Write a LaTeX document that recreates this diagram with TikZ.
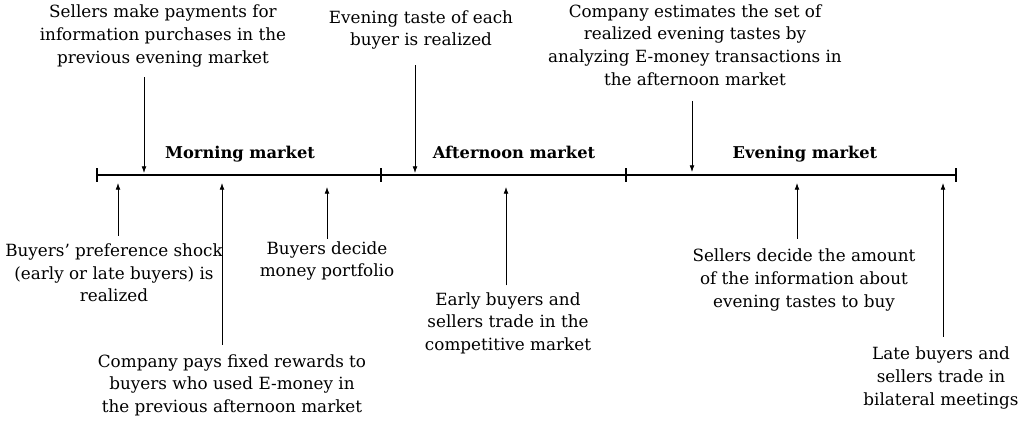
\documentclass[tikz,border=0pt]{standalone}
\usepackage{fontspec}
\setmainfont{DejaVu Serif}
\usetikzlibrary{arrows.meta}
\begin{document}
\begin{tikzpicture}[x=0.75pt,y=-0.75pt,
    note/.style={align=center,inner sep=1pt,font=\fontsize{12.6}{16.9}\selectfont},
    phase/.style={anchor=base,inner sep=1pt,font=\fontsize{12.2}{15}\selectfont\bfseries},
    evt/.style={-{Latex[length=5pt,width=3.6pt]},line width=0.6pt}]
    \useasboundingbox (0,0) rectangle (1021,421);
    % time line
    \coordinate (L) at (97,175);
    \coordinate (M1) at (381,175);
    \coordinate (M2) at (626,175);
    \coordinate (R) at (956,175);
    \draw[line width=1.1pt] (L)--(R);
    \foreach \t in {L,M1,M2,R}
        \draw[line width=1pt] (\t) ++(0,-7) -- ++(0,14);
    \node[phase] (morning) at (240,158) {Morning market};
    \node[phase] (afternoon) at (514,158) {Afternoon market};
    \node[phase] (evening) at (805,158) {Evening market};
    % events above the line
    \coordinate (d1) at (144,173);
    \coordinate (d2) at (415,173);
    \coordinate (d3) at (692,172);
    \node[note] (sellpay) at (163,36) {Sellers make payments for\\information purchases in the\\previous evening market};
    \node[note] (taste) at (421,30) {Evening taste of each\\buyer is realized};
    \node[note] (estimate) at (695,45) {Company estimates the set of\\realized evening tastes by\\analyzing E-money transactions in\\the afternoon market};
    \draw[evt,shorten <=6.5pt] (d1 |- sellpay.south) -- (d1);
    \draw[evt,shorten <=10.5pt] (d2 |- taste.south) -- (d2);
    \draw[evt,shorten <=10.5pt] (d3 |- estimate.south) -- (d3);
    % events below the line
    \coordinate (u1) at (118,183);
    \coordinate (u2) at (222,183);
    \coordinate (u3) at (327,187);
    \coordinate (u4) at (506,187);
    \coordinate (u5) at (797,183);
    \coordinate (u6) at (943,183);
    \node[note] (shock) at (114,273) {Buyers' preference shock\\(early or late buyers) is\\realized};
    \node[note] (rewards) at (232,385) {Company pays fixed rewards to\\buyers who used E-money in\\the previous afternoon market};
    \node[note] (portfolio) at (327,261) {Buyers decide\\money portfolio};
    \node[note] (early) at (508,323) {Early buyers and\\sellers trade in the\\competitive market};
    \node[note] (amount) at (804,280) {Sellers decide the amount\\of the information about\\evening tastes to buy};
    \node[note] (late) at (941,378) {Late buyers and\\sellers trade in\\bilateral meetings};
    \draw[evt,shorten <=5pt] (u1 |- shock.north) -- (u1);
    \draw[evt,shorten <=6pt] (u2 |- rewards.north) -- (u2);
    \draw[evt,shorten <=1pt] (u3 |- portfolio.north) -- (u3);
    \draw[evt,shorten <=4pt] (u4 |- early.north) -- (u4);
    \draw[evt,shorten <=6.5pt] (u5 |- amount.north) -- (u5);
    \draw[evt,shorten <=6.5pt] (u6 |- late.north) -- (u6);
\end{tikzpicture}
\end{document}
